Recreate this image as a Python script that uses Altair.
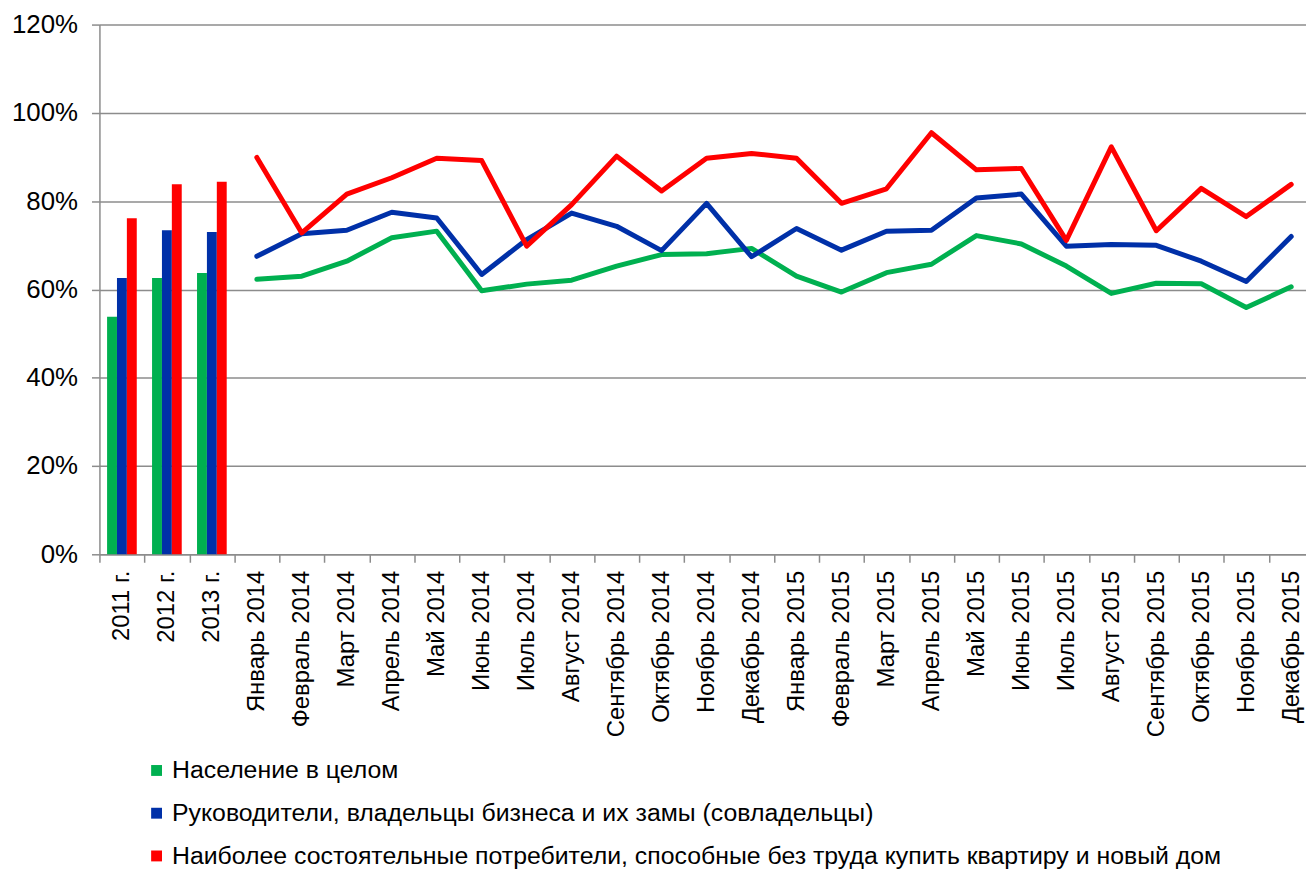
import altair as alt
import pandas as pd

categories = ["2011 г.", "2012 г.", "2013 г.",
              "Январь 2014", "Февраль 2014", "Март 2014", "Апрель 2014", "Май 2014", "Июнь 2014",
              "Июль 2014", "Август 2014", "Сентябрь 2014", "Октябрь 2014", "Ноябрь 2014", "Декабрь 2014",
              "Январь 2015", "Февраль 2015", "Март 2015", "Апрель 2015", "Май 2015", "Июнь 2015",
              "Июль 2015", "Август 2015", "Сентябрь 2015", "Октябрь 2015", "Ноябрь 2015", "Декабрь 2015"]
year_cats = categories[:3]
month_cats = categories[3:]

series_names = ["Население в целом",
                "Руководители, владельцы бизнеса и их замы (совладельцы)",
                "Наиболее состоятельные потребители, способные без труда купить квартиру и новый дом"]
series_colors = ["#00B050", "#0030A8", "#FF0000"]

# yearly values (%) shown as bars
pop_years = [53.8, 62.6, 63.7]
biz_years = [62.6, 73.4, 73.0]
rich_years = [76.1, 83.8, 84.4]

# monthly values (%) shown as lines
pop_months = [62.3, 63.0, 66.4, 71.7, 73.2, 59.7, 61.2, 62.1, 65.3, 67.9, 68.1, 69.3,
              63.0, 59.4, 63.8, 65.7, 72.2, 70.3, 65.3, 59.1, 61.4, 61.3, 55.9, 60.6]
biz_months = [67.5, 72.6, 73.4, 77.5, 76.2, 63.4, 71.3, 77.3, 74.3, 68.8, 79.5, 67.4,
              73.8, 68.9, 73.2, 73.4, 80.7, 81.6, 69.8, 70.2, 70.0, 66.4, 61.8, 72.0]
rich_months = [89.9, 72.8, 81.6, 85.3, 89.7, 89.2, 69.8, 79.2, 90.2, 82.3, 89.7, 90.8,
               89.7, 79.5, 82.8, 95.5, 87.1, 87.4, 71.1, 92.3, 73.3, 82.9, 76.5, 83.8]

y_ticks = [0, 0.2, 0.4, 0.6, 0.8, 1.0, 1.2]

bar_rows = []
for s, arr in zip(series_names, [pop_years, biz_years, rich_years]):
    for c, v in zip(year_cats, arr):
        bar_rows.append({"cat": c, "series": s, "value": v / 100})
line_rows = []
for s, arr in zip(series_names, [pop_months, biz_months, rich_months]):
    for c, v in zip(month_cats, arr):
        line_rows.append({"cat": c, "series": s, "value": v / 100})

bars_df = pd.DataFrame(bar_rows)
lines_df = pd.DataFrame(line_rows)

FONT = "Liberation Sans"
GRAY = "#8c8c8c"
STEP = 45.25

x_enc = alt.X("cat:N", sort=categories,
              scale=alt.Scale(domain=categories, range=[0, STEP * 27],
                              paddingInner=0.34, paddingOuter=0.17),
              axis=alt.Axis(title=None, labelAngle=-90, labelFont=FONT, labelFontSize=24,
                            labelColor="black", labelPadding=8, labelLimit=400,
                            tickSize=8, tickColor=GRAY, tickWidth=1.5,
                            tickOffset=-STEP / 2, labelOffset=STEP / 2,
                            domainColor=GRAY, domainWidth=1.5, grid=False))
y_enc = alt.Y("value:Q",
              scale=alt.Scale(domain=[0, 1.2], nice=False),
              axis=alt.Axis(title=None, values=y_ticks, format=".0%", labelFont=FONT,
                            labelFontSize=26, labelColor="black", labelPadding=14,
                            tickSize=8, tickColor=GRAY, tickWidth=1.5,
                            domainColor=GRAY, domainWidth=1.5,
                            gridColor=GRAY, gridWidth=1.5))
color_scale = alt.Scale(domain=series_names, range=series_colors)

bars = alt.Chart(bars_df).mark_bar().encode(
    x=x_enc,
    xOffset=alt.XOffset("series:N", sort=series_names),
    y=y_enc,
    color=alt.Color("series:N", scale=color_scale, sort=series_names,
                    legend=alt.Legend(title=None, orient="none", legendX=45, legendY=738,
                                      direction="vertical", symbolType="square",
                                      symbolSize=120, symbolStrokeWidth=0,
                                      labelFont=FONT, labelFontSize=25, labelColor="black",
                                      labelOffset=3, labelLimit=2000, rowPadding=17,
                                      padding=0)),
)

lines = alt.Chart(lines_df).mark_line(strokeWidth=5, strokeCap="round", strokeJoin="round").encode(
    x=x_enc,
    y=y_enc,
    color=alt.Color("series:N", scale=color_scale, sort=series_names, legend=None),
    detail="series:N",
)

chart = alt.layer(bars, lines).properties(
    width=1214, height=533,
    autosize="none",
    padding={"left": 92, "top": 14, "right": 0, "bottom": 320},
).configure_view(strokeWidth=0)

chart.save("out.html", embed_options={"renderer": "svg", "actions": False})
